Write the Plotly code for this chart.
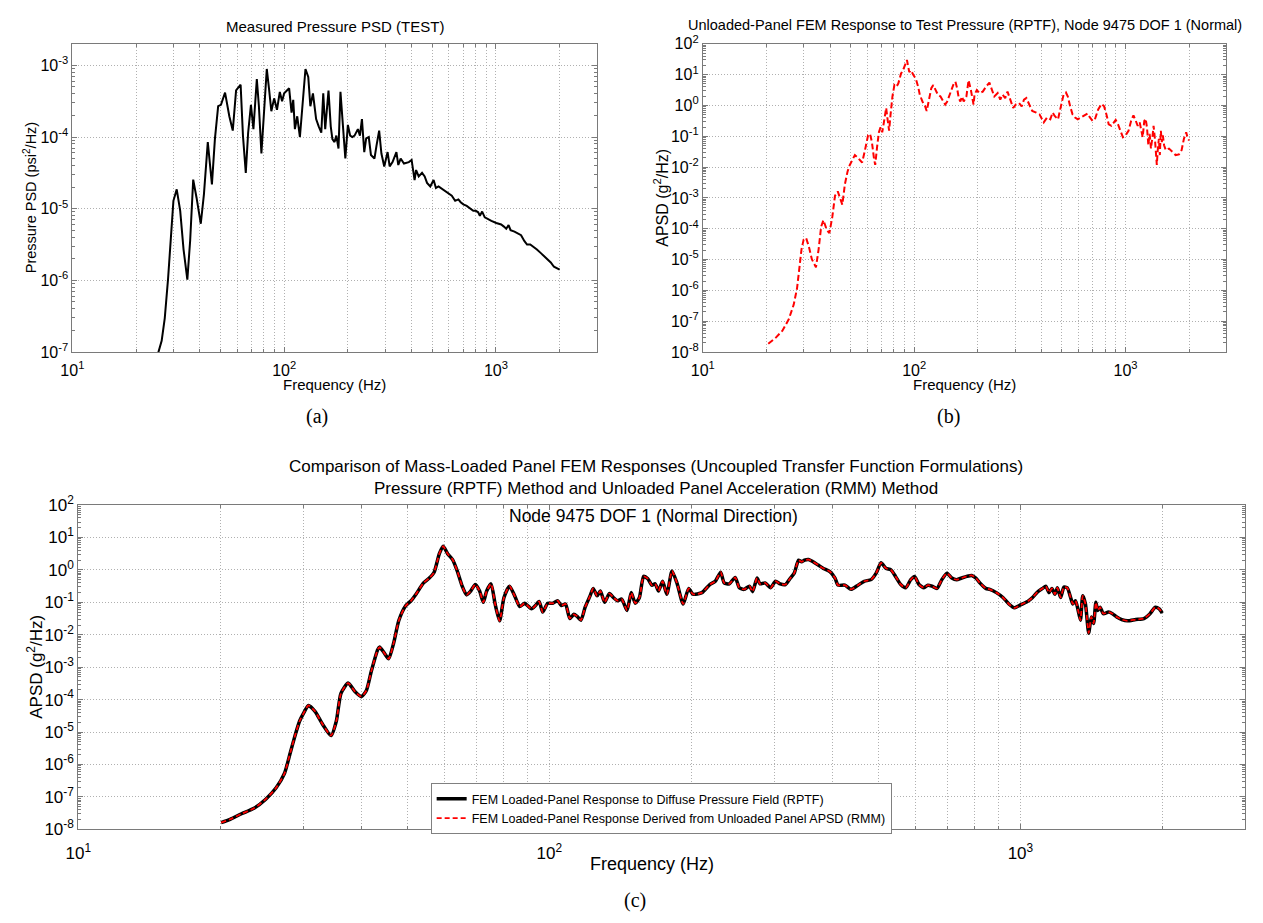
import math
import plotly.graph_objects as go

# ---------------- data ----------------
# Panel (a): measured pressure PSD, values stored as log10(psi^2/Hz)
a_freq = [24, 25.5, 26.4, 27.3, 28.3, 29.4, 30.0, 31.1, 32.3, 33.5,
          34.9, 36.0, 37.2, 38.6, 40.4, 41.8, 43.6, 45.6, 47.1, 48.8,
          50.3, 52.6, 55.1, 57.2, 59.3, 62.3, 63.9, 65.9, 67.6, 69.7,
          71.6, 74.3, 76.0, 78.1, 80.6, 82.8, 85.0, 87.0, 89.7, 92.5,
          95.4, 97.8, 100, 102.6, 105.6, 108.4, 110.4, 112.4, 115.3, 118.7,
          122, 126.1, 130, 133, 136.8, 141.6, 145.6, 149.8, 153, 156.3,
          162, 166, 169, 173, 176.4, 180.6, 184.5, 189, 194.5, 200,
          205, 210, 215, 223, 228, 233, 239, 244, 251, 257,
          267, 273, 281, 288, 297, 308, 315, 325, 339, 346,
          355, 368, 388, 400, 407, 413, 420, 432, 448, 461,
          473, 490, 508, 521, 536, 556, 576, 597, 619, 642,
          665, 682, 702, 728, 754, 782, 804, 825, 840, 861,
          886, 918, 952, 1004, 1059, 1091, 1119, 1148, 1173, 1224,
          1268, 1315, 1362, 1403, 1453, 1506, 1562, 1631, 1690, 1751,
          1816, 1880, 1950, 2000]
a_log_psd = [-7.5, -7.0, -6.845, -6.53, -5.98, -5.30, -4.89, -4.73, -5.03, -5.57,
             -5.99, -5.44, -4.595, -4.85, -5.21, -4.80, -4.07, -4.66, -4.03, -3.57,
             -3.55, -3.38, -3.71, -3.91, -3.35, -3.27, -3.98, -4.50, -3.94, -3.55,
             -3.89, -3.19, -3.57, -4.23, -3.57, -3.05, -3.35, -3.64, -3.46, -3.62,
             -3.37, -3.50, -3.39, -3.35, -3.32, -3.66, -3.48, -3.89, -3.71, -4.00,
             -3.57, -3.05, -3.16, -3.57, -3.39, -3.75, -3.85, -3.94, -3.39, -3.89,
             -3.35, -3.85, -4.03, -4.07, -3.98, -4.16, -3.37, -3.80, -4.30, -3.83,
             -3.98, -4.00, -3.98, -3.89, -3.98, -3.75, -4.21, -4.02, -4.00, -4.25,
             -4.30, -4.12, -3.91, -4.23, -4.41, -4.21, -4.41, -4.35, -4.21, -4.39,
             -4.30, -4.37, -4.35, -4.32, -4.48, -4.60, -4.46, -4.55, -4.50, -4.55,
             -4.64, -4.69, -4.60, -4.71, -4.69, -4.72, -4.75, -4.78, -4.82, -4.89,
             -4.87, -4.91, -4.94, -4.96, -5.00, -5.03, -5.03, -5.05, -5.10, -5.04,
             -5.12, -5.15, -5.17, -5.20, -5.22, -5.25, -5.28, -5.23, -5.30, -5.32,
             -5.34, -5.37, -5.45, -5.50, -5.50, -5.53, -5.57, -5.62, -5.66, -5.71,
             -5.75, -5.81, -5.84, -5.85]

# Panel (b): unloaded-panel APSD, log10(g^2/Hz)
b_freq = [20.4, 22.1, 23.8, 25.5, 26.9, 27.9, 28.6, 29.3, 30.0, 30.8,
          31.7, 32.8, 34.3, 35.3, 36.3, 37.2, 38.6, 39.7, 41.0, 42.2,
          43.5, 44.6, 45.7, 47.0, 48.4, 49.6, 52.4, 54.3, 56.7, 58.3,
          60.5, 61.8, 63.1, 64.5, 65.4, 66.9, 68.1, 69.3, 70.6, 71.9,
          73.7, 75.0, 76.1, 77.2, 78.9, 80.6, 82.4, 84.1, 86.6, 89.1,
          92.4, 94.8, 96.5, 99.3, 101.8, 104.4, 106.3, 109.4, 112.6, 114.6,
          117.5, 120.5, 123.1, 126.3, 129.4, 133.2, 137.1, 140.2, 143.3, 146.9,
          150.1, 153.9, 156.7, 159.6, 162.5, 165.4, 168.4, 171.5, 176.6, 180.8,
          185.5, 190.9, 193.0, 197.8, 203.6, 211.1, 218.8, 227.0, 233.5, 239.4,
          248.3, 255.4, 261.8, 269.6, 276.4, 284.6, 294.0, 302.6, 313.5, 322.7,
          330.8, 339.3, 349.2, 361.9, 377.8, 391.8, 402.8, 410.3, 425.5, 440.6,
          452.0, 462.0, 479.0, 496.7, 509.1, 522.4, 533.3, 547.1, 561.2, 577.0,
          594.2, 615.5, 638.2, 661.6, 678.5, 698.2, 716.2, 742.4, 769.5, 791.9,
          812.0, 832.4, 857.0, 882.3, 898.0, 920.6, 947.6, 971.6, 1000, 1033,
          1063, 1090, 1118, 1142, 1167, 1184, 1205, 1227, 1245, 1263,
          1282, 1300, 1319, 1343, 1357, 1377, 1392, 1406, 1422, 1438,
          1453, 1469, 1485, 1501, 1522, 1550, 1606, 1665, 1726, 1790,
          1842, 1889, 1936, 1972, 2000]
b_log_apsd = [-7.73, -7.54, -7.31, -6.94, -6.47, -5.94, -5.30, -4.67, -4.35, -4.30,
              -4.56, -4.99, -5.25, -4.67, -3.93, -3.72, -4.04, -4.14, -3.61, -2.93,
              -2.79, -2.98, -3.22, -2.56, -2.14, -1.93, -1.61, -1.71, -1.85, -1.50,
              -0.97, -0.92, -1.19, -1.71, -1.93, -1.29, -0.87, -0.71, -0.87, -0.55,
              -0.08, -0.50, -0.82, -0.34, 0.29, 0.66, 0.61, 0.71, 1.03, 1.19,
              1.475, 1.08, 1.14, 0.98, 0.87, 0.61, 0.35, 0.13, -0.02, -0.18,
              0.19, 0.56, 0.66, 0.50, 0.35, 0.29, 0.13, 0.03, 0.13, 0.35,
              0.50, 0.71, 0.77, 0.56, 0.24, 0.13, 0.29, 0.13, 0.29, 0.82,
              0.50, 0.03, 0.35, 0.50, 0.40, 0.45, 0.61, 0.74, 0.50, 0.29,
              0.40, 0.19, 0.35, 0.24, 0.45, 0.19, -0.08, 0.03, 0.08, -0.03,
              0.19, 0.24, 0.03, -0.18, -0.23, -0.29, -0.45, -0.55, -0.39, -0.45,
              -0.23, -0.34, -0.45, -0.03, 0.35, 0.42, 0.29, -0.03, -0.29, -0.39,
              -0.45, -0.39, -0.32, -0.26, -0.39, -0.50, -0.45, -0.13, 0.05, -0.03,
              -0.29, -0.61, -0.66, -0.55, -0.47, -0.61, -0.87, -1.03, -0.97, -0.82,
              -0.50, -0.32, -0.50, -0.66, -0.55, -0.76, -1.03, -0.50, -0.43, -0.71,
              -1.29, -0.92, -1.40, -0.97, -0.66, -1.08, -1.56, -1.93, -1.40, -1.08,
              -1.61, -0.82, -1.19, -0.97, -1.29, -1.45, -1.40, -1.50, -1.61, -1.59,
              -1.45, -1.08, -0.87, -1.08, -1.13]

# Panel (c): mass-loaded panel APSD, log10(g^2/Hz)
c_freq = [20.1, 21.0, 22.2, 23.6, 25.0, 26.3, 27.4, 28.2, 28.9, 29.5,
          30.1, 30.8, 31.8, 33.0, 34.4, 35.3, 36.1, 37.4, 38.7, 39.9,
          40.9, 41.9, 43.2, 43.6, 44.6, 45.6, 46.7, 47.9, 49.5, 50.8,
          52.1, 54.0, 55.6, 56.9, 58.4, 59.5, 60.8, 62.3, 63.7, 65.3,
          66.7, 68.1, 69.6, 71.1, 72.4, 73.6, 75.2, 76.7, 78.4, 80.1,
          82.3, 84.4, 86.5, 88.6, 91.6, 93.4, 95.1, 96.8, 99.2, 101.6,
          104.1, 106.0, 108.2, 110.5, 112.7, 114.5, 116.7, 119.1, 122.0, 123.9,
          126.3, 128.3, 131.0, 134.1, 136.7, 139.5, 142.4, 146.2, 149.2, 152.2,
          155.3, 158.5, 161.8, 165.0, 167.7, 170.5, 173.9, 177.6, 182.1, 186.8,
          192.3, 197.6, 201.8, 210.8, 219, 225, 231, 235, 241, 248,
          253, 259, 266, 270, 276, 280, 287, 295, 302, 309,
          317, 325, 331, 338, 343, 348, 355, 363, 372, 381,
          394, 404, 410, 424, 437, 452, 466, 482, 494, 506,
          518, 531, 543, 557, 571, 585, 596, 609, 624, 636,
          649, 665, 681, 698, 715, 732, 750, 769, 788, 804,
          820, 844, 861, 889, 918, 945, 971, 1003, 1036, 1061,
          1087, 1114, 1132, 1150, 1166, 1184, 1198, 1217, 1237, 1257,
          1278, 1292, 1309, 1326, 1341, 1356, 1374, 1396, 1414, 1430,
          1446, 1460, 1476, 1500, 1538, 1568, 1601, 1641, 1687, 1757,
          1828, 1884, 1933, 1971, 2000]
c_log_rptf = [-7.79, -7.69, -7.52, -7.35, -7.07, -6.72, -6.27, -5.62, -5.07, -4.66,
              -4.41, -4.18, -4.36, -4.76, -5.11, -4.66, -3.81, -3.49, -3.76, -3.91,
              -3.71, -3.11, -2.46, -2.38, -2.56, -2.74, -2.26, -1.56, -1.11, -0.96,
              -0.75, -0.41, -0.25, -0.08, 0.50, 0.73, 0.50, 0.32, -0.02, -0.50,
              -0.77, -0.65, -0.45, -0.65, -1.00, -0.65, -0.43, -1.05, -1.57, -0.85,
              -0.50, -0.80, -1.13, -1.03, -1.20, -1.10, -0.97, -1.30, -1.03, -1.03,
              -0.95, -1.10, -1.05, -1.50, -1.37, -1.43, -1.55, -1.15, -0.80, -0.57,
              -0.80, -0.65, -1.00, -0.73, -0.85, -0.95, -0.90, -1.25, -0.70, -1.03,
              -0.85, -0.20, -0.27, -0.47, -0.43, -0.65, -0.35, -0.75, -0.03, -0.43,
              -1.05, -0.57, -0.75, -0.70, -0.45, -0.35, -0.07, -0.40, -0.43, -0.23,
              -0.55, -0.60, -0.50, -0.67, -0.25, -0.43, -0.40, -0.55, -0.35, -0.43,
              -0.45, -0.25, -0.10, 0.30, 0.25, 0.30, 0.32, 0.25, 0.15, 0.05,
              -0.05, -0.25, -0.47, -0.47, -0.60, -0.47, -0.35, -0.30, -0.10, 0.22,
              0.05, 0.00, -0.20, -0.45, -0.55, -0.30, -0.20, -0.45, -0.55, -0.47,
              -0.50, -0.57, -0.30, -0.10, -0.25, -0.30, -0.25, -0.20, -0.17, -0.25,
              -0.40, -0.57, -0.60, -0.70, -0.85, -1.05, -1.17, -1.07, -0.97, -0.85,
              -0.68, -0.57, -0.50, -0.70, -0.57, -0.75, -0.55, -0.85, -0.53, -0.55,
              -0.85, -1.05, -0.95, -1.25, -1.55, -0.80, -1.05, -1.95, -1.45, -1.65,
              -1.00, -1.25, -1.15, -1.35, -1.30, -1.35, -1.45, -1.53, -1.57, -1.53,
              -1.50, -1.35, -1.15, -1.20, -1.33]
c_log_rmm = list(c_log_rptf)  # the RMM curve overlays the RPTF curve

a_psd = [10 ** v for v in a_log_psd]
b_apsd = [10 ** v for v in b_log_apsd]
c_rptf = [10 ** v for v in c_log_rptf]
c_rmm = [10 ** v for v in c_log_rmm]

# tick labels
x_major = [10, 100, 1000]
x_major_text = ["10<sup>1</sup>", "10<sup>2</sup>", "10<sup>3</sup>"]
a_ymajor = [1e-7, 1e-6, 1e-5, 1e-4, 1e-3]
a_ymajor_text = ["10<sup>-7</sup>", "10<sup>-6</sup>", "10<sup>-5</sup>", "10<sup>-4</sup>", "10<sup>-3</sup>"]
bc_ymajor = [1e-8, 1e-7, 1e-6, 1e-5, 1e-4, 1e-3, 1e-2, 1e-1, 1e0, 1e1, 1e2]
bc_ymajor_text = ["10<sup>-8</sup>", "10<sup>-7</sup>", "10<sup>-6</sup>", "10<sup>-5</sup>",
                  "10<sup>-4</sup>", "10<sup>-3</sup>", "10<sup>-2</sup>", "10<sup>-1</sup>",
                  "10<sup>0</sup>", "10<sup>1</sup>", "10<sup>2</sup>"]
x_minor = [m * d for d in (10, 100, 1000) for m in range(2, 10) if m * d <= 3000]
y_minor = [m * 10.0 ** k for k in range(-8, 2) for m in range(2, 10)]

# ---------------- layout helpers ----------------
W, H = 1263, 923


def px(x):
    return x / W


def py(y):
    return 1 - y / H


FONT = "Liberation Sans, Arial, Helvetica, sans-serif"
SERIF = "Liberation Serif, Times New Roman, serif"
AXC = "#7a7a7a"
GRIDC = "#b0b0b0"
GDASH = "1px,2px"


def xaxis(domain, anchor, fs, standoff):
    return dict(type="log", domain=domain, anchor=anchor, range=[1, math.log10(3000)],
                tickmode="array", tickvals=x_major, ticktext=x_major_text,
                showline=True, linecolor=AXC, linewidth=1, mirror="ticks",
                ticks="inside", ticklen=5, tickcolor=AXC, ticklabelstandoff=standoff,
                showgrid=True, gridcolor=GRIDC, gridwidth=1, griddash=GDASH,
                zeroline=False, tickfont=dict(family=FONT, size=fs, color="black"),
                minor=dict(tickmode="array", tickvals=x_minor, ticks="inside", ticklen=3,
                           tickcolor=AXC, showgrid=True, gridcolor=GRIDC, gridwidth=1,
                           griddash=GDASH))


def yaxis(domain, anchor, rng, tv, tt, fs):
    return dict(type="log", domain=domain, anchor=anchor, range=rng,
                tickmode="array", tickvals=tv, ticktext=tt,
                showline=True, linecolor=AXC, linewidth=1, mirror="ticks",
                ticks="inside", ticklen=5, tickcolor=AXC,
                showgrid=True, gridcolor=GRIDC, gridwidth=1, griddash=GDASH,
                zeroline=False, tickfont=dict(family=FONT, size=fs, color="black"),
                minor=dict(tickmode="array", tickvals=y_minor, ticks="inside", ticklen=3,
                           tickcolor=AXC, showgrid=False))


fig = go.Figure()
fig.add_trace(go.Scatter(x=a_freq, y=a_psd, mode="lines", xaxis="x", yaxis="y",
                         line=dict(color="black", width=2), showlegend=False))
fig.add_trace(go.Scatter(x=b_freq, y=b_apsd, mode="lines", xaxis="x2", yaxis="y2",
                         line=dict(color="#ff0000", width=2, dash="6px,3px"), showlegend=False))
fig.add_trace(go.Scatter(x=c_freq, y=c_rptf, mode="lines", xaxis="x3", yaxis="y3",
                         line=dict(color="black", width=3.5, shape="spline", smoothing=0.6),
                         name="FEM Loaded-Panel Response to Diffuse Pressure Field (RPTF)"))
fig.add_trace(go.Scatter(x=c_freq, y=c_rmm, mode="lines", xaxis="x3", yaxis="y3",
                         line=dict(color="#ff0000", width=1.8, dash="5px,3px", shape="spline", smoothing=0.6),
                         name="FEM Loaded-Panel Response Derived from Unloaded Panel APSD (RMM)"))

a_x = [px(60), px(590)]
b_x = [px(697), px(1226)]
c_x = [px(66), px(1245)]
ab_y = [py(348.3), py(32.6)]
c_y = [py(837.3), py(505.1)]

ann = []


def text(x, y, s, size, angle=0, family=FONT):
    ann.append(dict(x=px(x), y=py(y), xref="paper", yref="paper", text=s, showarrow=False,
                    xanchor="center", yanchor="middle", textangle=angle,
                    font=dict(family=family, size=size, color="black")))


text(325, 15, "Measured Pressure PSD (TEST)", 15)
text(961.5, 13, "Unloaded-Panel FEM Response to Test Pressure (RPTF), Node 9475 DOF 1 (Normal)", 14.5)
text(650, 476.5, "Comparison of Mass-Loaded Panel FEM Responses (Uncoupled Transfer Function Formulations)"
     "<br>Pressure (RPTF) Method and Unloaded Panel Acceleration (RMM) Method", 17)
text(647, 516, "Node 9475 DOF 1 (Normal Direction)", 17.5)
text(325, 382, "Frequency (Hz)", 15)
text(961.5, 382, "Frequency (Hz)", 15)
text(646, 873, "Frequency (Hz)", 18)
text(18, 190, "Pressure PSD (psi<sup>2</sup>/Hz)", 14.5, -90)
text(655, 190, "APSD (g<sup>2</sup>/Hz)", 16, -90)
text(22, 671, "APSD (g<sup>2</sup>/Hz)", 17, -90)
text(307, 414, "(a)", 20, 0, SERIF)
text(945, 414, "(b)", 20, 0, SERIF)
text(628, 910, "(c)", 20, 0, SERIF)

fig.update_layout(
    width=W, height=H,
    margin=dict(l=0, r=0, t=0, b=0),
    paper_bgcolor="white", plot_bgcolor="white",
    font=dict(family=FONT, color="black"),
    xaxis=xaxis(a_x, "y", 16, 4),
    yaxis=yaxis(ab_y, "x", [-7, math.log10(2e-3)], a_ymajor, a_ymajor_text, 16),
    xaxis2=xaxis(b_x, "y2", 16, 4),
    yaxis2=yaxis(ab_y, "x2", [-8, 2], bc_ymajor, bc_ymajor_text, 16),
    xaxis3=xaxis(c_x, "y3", 17, 8),
    yaxis3=yaxis(c_y, "x3", [-8, 2], bc_ymajor, bc_ymajor_text, 17),
    annotations=ann,
    legend=dict(x=px(422), y=py(790), xanchor="left", yanchor="top",
                bgcolor="white", bordercolor="#808080", borderwidth=1,
                font=dict(family=FONT, size=12.5, color="black"),
                tracegroupgap=0, itemwidth=30),
    showlegend=True,
)

fig.write_html("out.html")
